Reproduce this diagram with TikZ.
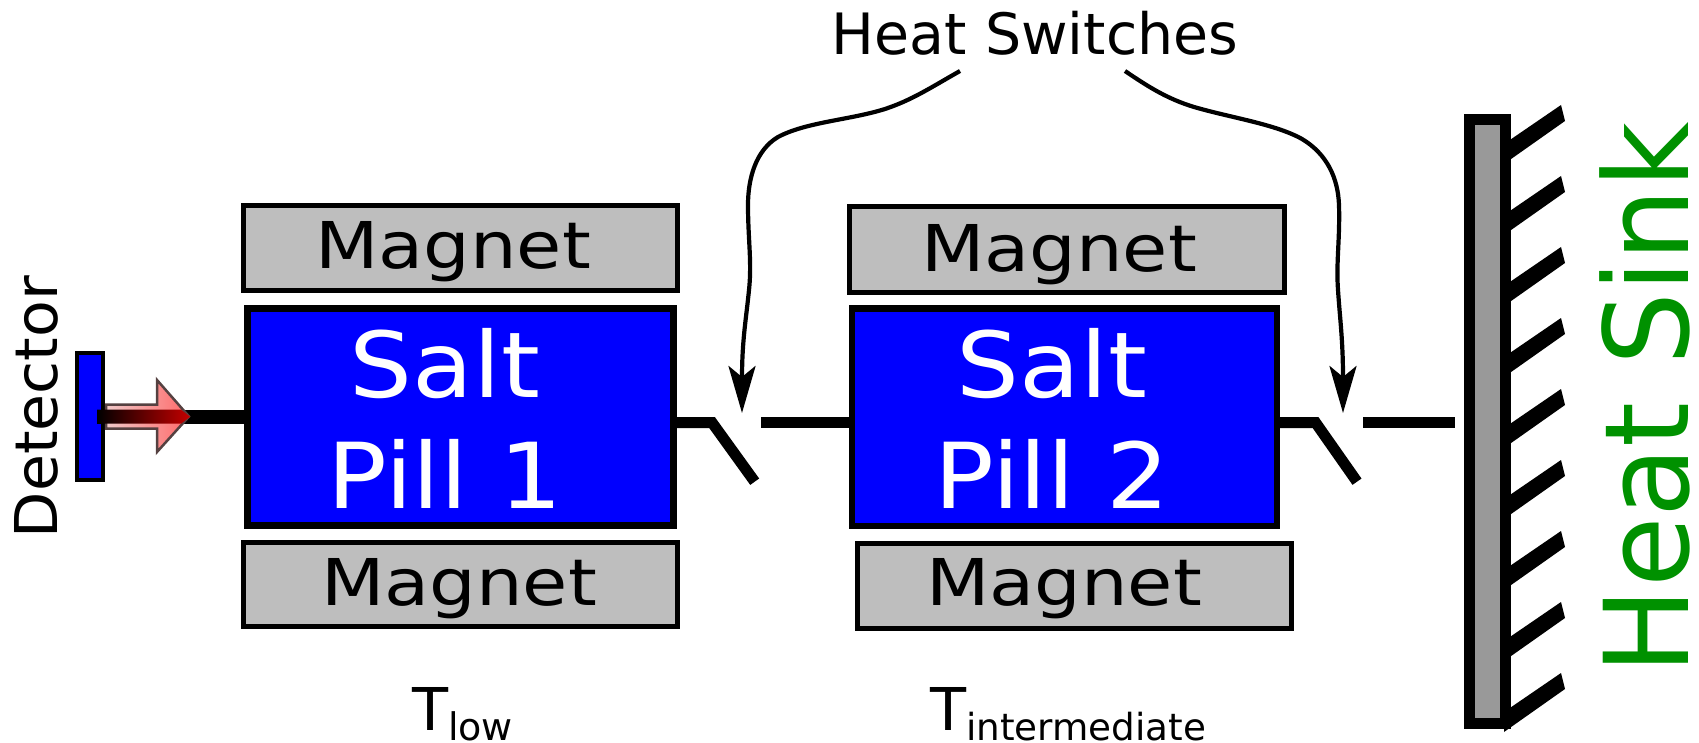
\documentclass[tikz,border=0pt]{standalone}
\usepackage{graphicx}
\usepackage{fontspec}
\setmainfont{DejaVu Sans}
\usetikzlibrary{arrows.meta}
\definecolor{magfill}{RGB}{190,190,190}
\definecolor{saltblue}{RGB}{0,0,255}
\definecolor{sinkgrey}{RGB}{153,153,153}
\definecolor{sinkgreen}{RGB}{0,145,0}
\definecolor{pinkhead}{RGB}{255,105,105}
\definecolor{pinkpale}{RGB}{240,200,200}
\definecolor{arrowedge}{RGB}{85,65,65}
\definecolor{bandred}{RGB}{195,0,0}
\newcommand{\magtext}{\scalebox{1.14}[1]{\fontsize{64.5}{70}\selectfont Magnet}}
\newcommand{\saltlines}[1]{\scalebox{1.09}[1]{Salt}\\\scalebox{1.09}[1]{Pill #1}}
\tikzset{
  every node/.append style={outer sep=0pt},
  magnetbox/.style={draw=black,fill=magfill,line width=5pt,inner sep=0pt,anchor=north west,minimum width=434pt,minimum height=84pt},
  saltbox/.style={draw=black,fill=saltblue,line width=6.5pt,inner sep=0pt,anchor=north west,minimum width=426pt,minimum height=217pt},
  magnetlabel/.style={inner sep=0pt,anchor=base,text=black},
  saltlabel/.style={inner sep=0pt,anchor=center,align=center,text=white,font=\fontsize{91}{111}\selectfont},
  templabel/.style={inner sep=0pt,anchor=base west,font=\fontsize{59}{60}\selectfont},
  wire/.style={draw=black,line width=11pt,line cap=butt,line join=miter},
  pointer/.style={draw=black,line width=4.2pt,-{Stealth[length=47pt,width=27pt,inset=11pt]}}
}
\begin{document}
\begin{tikzpicture}[x=1pt,y=-1pt]
\useasboundingbox (0,0) rectangle (1699,743);
% anchor points
\coordinate (wirestart) at (97,416.7);
\coordinate (corner1) at (712,422.5);
\coordinate (lever1) at (754.7,481.7);
\coordinate (stub1) at (761,422.5);
\coordinate (corner2) at (1315.5,422.5);
\coordinate (lever2) at (1357,481.7);
\coordinate (stub2) at (1363,422.5);
\coordinate (sinkend) at (1455,422.5);
\coordinate (hsleft) at (960,71);
\coordinate (hsright) at (1125,71);
\coordinate (tip1) at (742,413);
\coordinate (tip2) at (1343,413);
% boxes
\node[magnetbox] (magA) at (243.5,206) {};
\node[magnetbox] (magB) at (243.5,542) {};
\node[magnetbox,minimum width=435pt,minimum height=85pt] (magC) at (849.5,207) {};
\node[magnetbox,minimum height=85pt] (magD) at (857.5,543) {};
\node[magnetlabel] (magAt) at (453,269) {\magtext};
\node[magnetlabel] (magBt) at (459,605) {\magtext};
\node[magnetlabel] (magCt) at (1059,272) {\magtext};
\node[magnetlabel] (magDt) at (1064,605) {\magtext};
% detector
\node[draw=black,fill=saltblue,line width=4.5pt,inner sep=0pt,anchor=north west,minimum width=26pt,minimum height=127pt] (det) at (77,353) {};
\node[inner sep=0pt,anchor=base,rotate=90] (dett) at (57,407) {\scalebox{1.02}[1]{\fontsize{59}{60}\selectfont Detector}};
% salt pills
\node[saltbox] (saltA) at (247.5,308.5) {};
\node[saltbox,minimum width=425pt,minimum height=217.5pt] (saltB) at (852,308.5) {};
\node[saltlabel] (saltAt) at (445,418) {\saltlines{1}};
\node[saltlabel] (saltBt) at (1052,418) {\saltlines{2}};
% wires and switches
\draw[black,line width=14pt] (wirestart) -- (saltA.west |- wirestart);
\draw[wire] (saltA.east |- corner1) -- (corner1) -- (lever1);
\draw[wire] (stub1) -- (saltB.west |- stub1);
\draw[wire] (saltB.east |- corner2) -- (corner2) -- (lever2);
\draw[wire] (stub2) -- (sinkend);
% gradient arrow
\draw[draw=arrowedge,line width=2.5pt,left color=pinkpale,right color=pinkhead,line join=miter]
  (106,404.5) -- (157,404.5) -- (157,380) -- (189,416.5) -- (157,452) -- (157,428.5) -- (106,428.5) -- cycle;
\shade[left color=black,right color=bandred] (97,409.7) -- (181,409.7) -- (190,416.7) -- (181,423.7) -- (97,423.7) -- cycle;
% heat sink
\foreach \ty in {105,176,247,318,389,460,531,602,673}{
  \fill[black] (1561,\ty) -- (1565,\ty+16) -- (1504,\ty+59) -- (1504,\ty+39) -- cycle;
}
\node[draw=black,fill=sinkgrey,line width=11pt,inner sep=0pt,anchor=north west,minimum width=36.5pt,minimum height=603pt] (sink) at (1469,120) {};
\node[inner sep=0pt,anchor=base,rotate=90,text=sinkgreen] (sinkt) at (1688,398) {\scalebox{0.98}[1]{\fontsize{117}{120}\selectfont Heat Sink}};
% heat switches label and pointers
\node[inner sep=0pt,anchor=base,font=\fontsize{57}{60}\selectfont] (hs) at (1035,55) {Heat Switches};
\draw[pointer] (hsleft) .. controls (930,88) and (912,100) .. (885,109)
  .. controls (850,120) and (806,122) .. (778,137)
  .. controls (756,150) and (748,178) .. (748,205)
  .. controls (748,240) and (752,262) .. (749,290)
  .. controls (746,320) and (742,340) .. (tip1);
\draw[pointer] (hsright) .. controls (1150,88) and (1168,99) .. (1194,107)
  .. controls (1232,118) and (1275,124) .. (1302,139)
  .. controls (1327,154) and (1338,178) .. (1339,205)
  .. controls (1340,240) and (1336,262) .. (1338,290)
  .. controls (1340,320) and (1343,340) .. (tip2);
% temperatures
\node[templabel] (tlow) at (412,730) {T\raisebox{-10pt}{\fontsize{38}{40}\selectfont low}};
\node[templabel] (tint) at (930,730) {T\raisebox{-10pt}{\fontsize{37.3}{40}\selectfont intermediate}};
\end{tikzpicture}
\end{document}
